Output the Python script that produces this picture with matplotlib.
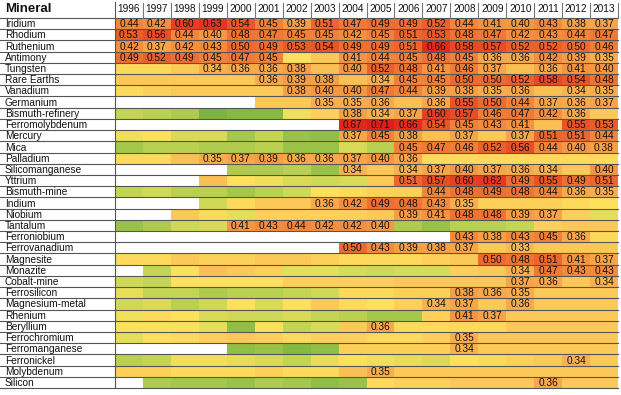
import numpy as np
import matplotlib
matplotlib.use("Agg")
import matplotlib.pyplot as plt
from matplotlib.colors import LinearSegmentedColormap

nan = np.nan
years = [str(y) for y in range(1996, 2014)]
minerals = ["Iridium", "Rhodium", "Ruthenium", "Antimony", "Tungsten", "Rare Earths",
            "Vanadium", "Germanium", "Bismuth-refinery", "Ferromolybdenum", "Mercury",
            "Mica", "Palladium", "Silicomanganese", "Yttrium", "Bismuth-mine", "Indium",
            "Niobium", "Tantalum", "Ferroniobium", "Ferrovanadium", "Magnesite",
            "Monazite", "Cobalt-mine", "Ferrosilicon", "Magnesium-metal", "Rhenium",
            "Beryllium", "Ferrochromium", "Ferromanganese", "Ferronickel",
            "Molybdenum", "Silicon"]

iridium = [0.44,0.42,0.60,0.63,0.54,0.45,0.39,0.51,0.47,0.49,0.49,0.52,0.44,0.41,0.40,0.43,0.38,0.37]
rhodium = [0.53,0.56,0.44,0.40,0.48,0.47,0.45,0.45,0.42,0.45,0.51,0.53,0.48,0.47,0.42,0.43,0.44,0.47]
ruthenium = [0.42,0.37,0.42,0.43,0.50,0.49,0.53,0.54,0.49,0.49,0.51,0.66,0.58,0.57,0.52,0.52,0.50,0.46]
antimony = [0.49,0.52,0.49,0.45,0.47,0.45,0.28,0.31,0.41,0.44,0.45,0.48,0.45,0.36,0.36,0.42,0.39,0.35]
tungsten = [0.29,0.29,0.31,0.34,0.36,0.36,0.38,0.32,0.40,0.52,0.48,0.41,0.46,0.37,0.32,0.36,0.41,0.40]
rare_earths = [0.31,0.31,0.31,0.31,0.31,0.36,0.39,0.38,0.32,0.34,0.45,0.45,0.50,0.50,0.52,0.58,0.54,0.48]
vanadium = [0.29,0.30,0.31,0.31,0.31,0.31,0.38,0.40,0.40,0.47,0.44,0.39,0.38,0.35,0.36,0.32,0.34,0.35]
germanium = [nan,nan,nan,nan,nan,0.31,0.31,0.35,0.35,0.36,0.32,0.36,0.55,0.50,0.44,0.37,0.36,0.37]
bismuth_refinery = [0.23,0.22,0.21,0.16,0.17,0.17,0.27,0.30,0.38,0.34,0.37,0.60,0.57,0.46,0.47,0.42,0.36,0.31]
ferromolybdenum = [nan,nan,nan,nan,nan,nan,nan,nan,0.67,0.71,0.66,0.54,0.45,0.43,0.41,0.32,0.55,0.53]
mercury = [0.27,0.28,0.25,0.25,0.20,0.23,0.19,0.18,0.37,0.45,0.38,0.32,0.37,0.31,0.37,0.51,0.51,0.44]
mica = [0.20,0.22,0.22,0.21,0.21,0.22,0.19,0.19,0.25,0.22,0.45,0.47,0.46,0.52,0.56,0.44,0.40,0.38]
palladium = [0.29,0.29,0.32,0.35,0.37,0.39,0.36,0.36,0.37,0.40,0.36,0.29,0.29,0.29,0.29,0.29,0.29,0.29]
silicomanganese = [nan,nan,nan,nan,0.21,0.21,0.22,0.19,0.34,0.31,0.34,0.37,0.40,0.37,0.36,0.34,0.31,0.40]
yttrium = [nan,nan,nan,0.32,0.28,0.27,0.25,0.24,0.25,0.31,0.51,0.57,0.60,0.62,0.49,0.55,0.49,0.51]
bismuth_mine = [0.23,0.24,0.22,0.22,0.20,0.22,0.24,0.28,0.29,0.30,0.30,0.44,0.48,0.49,0.48,0.44,0.36,0.35]
indium = [nan,nan,nan,0.24,0.29,0.31,0.31,0.36,0.42,0.49,0.48,0.43,0.35,0.30,0.30,0.30,0.29,0.28]
niobium = [nan,nan,0.31,0.29,0.26,0.30,0.30,0.30,0.30,0.31,0.39,0.41,0.48,0.48,0.39,0.37,0.30,0.26]
tantalum = [0.19,0.21,0.24,0.25,0.41,0.43,0.44,0.42,0.42,0.40,0.21,0.19,0.22,0.22,0.23,0.30,0.31,0.31]
ferroniobium = [nan,nan,nan,nan,nan,nan,nan,nan,nan,nan,nan,nan,0.43,0.38,0.43,0.45,0.36,0.29]
ferrovanadium = [nan,nan,nan,nan,nan,nan,nan,nan,0.50,0.43,0.39,0.38,0.37,0.31,0.33,0.31,0.31,0.31]
magnesite = [0.29,0.29,0.31,0.30,0.30,0.31,0.31,0.30,0.29,0.29,0.29,0.30,0.31,0.50,0.48,0.51,0.41,0.37]
monazite = [nan,0.23,0.28,0.32,0.31,0.30,0.26,0.26,0.25,0.24,0.25,0.25,0.30,0.31,0.34,0.47,0.43,0.43]
cobalt_mine = [0.24,0.23,0.28,0.28,0.28,0.28,0.30,0.30,0.30,0.30,0.31,0.31,0.31,0.31,0.37,0.36,0.31,0.34]
ferrosilicon = [0.26,0.23,0.23,0.21,0.22,0.22,0.23,0.24,0.29,0.29,0.30,0.30,0.38,0.36,0.35,0.31,0.31,0.31]
magnesium_metal = [0.24,0.25,0.22,0.24,0.28,0.25,0.28,0.31,0.29,0.28,0.30,0.34,0.37,0.31,0.36,0.31,0.31,0.31]
rhenium = [0.27,0.29,0.28,0.25,0.24,0.24,0.25,0.23,0.22,0.20,0.20,0.30,0.41,0.37,0.31,0.31,0.31,0.31]
beryllium = [0.28,0.28,0.28,0.26,0.18,0.28,0.23,0.25,0.31,0.36,0.29,0.29,0.29,0.29,0.31,0.31,0.31,0.31]
ferrochromium = [0.26,0.28,0.29,0.30,0.31,0.30,0.29,0.30,0.30,0.29,0.29,0.30,0.35,0.31,0.31,0.31,0.31,0.31]
ferromanganese = [nan,nan,nan,nan,0.18,0.19,0.17,0.18,0.30,0.30,0.30,0.30,0.34,0.31,0.31,0.31,0.31,0.31]
ferronickel = [0.22,0.23,0.27,0.27,0.26,0.25,0.23,0.26,0.28,0.27,0.26,0.25,0.28,0.29,0.30,0.31,0.34,0.31]
molybdenum = [0.30,0.30,0.29,0.29,0.29,0.30,0.29,0.29,0.32,0.35,0.31,0.31,0.31,0.31,0.31,0.31,0.31,0.31]
silicon = [nan,0.21,0.20,0.20,0.19,0.21,0.20,0.18,0.19,0.29,0.30,0.30,0.31,0.31,0.31,0.36,0.31,0.31]

rows = [iridium, rhodium, ruthenium, antimony, tungsten, rare_earths, vanadium, germanium,
        bismuth_refinery, ferromolybdenum, mercury, mica, palladium, silicomanganese,
        yttrium, bismuth_mine, indium, niobium, tantalum, ferroniobium, ferrovanadium,
        magnesite, monazite, cobalt_mine, ferrosilicon, magnesium_metal, rhenium,
        beryllium, ferrochromium, ferromanganese, ferronickel, molybdenum, silicon]
data = np.array(rows, dtype=float)
label_threshold = 0.33

vmin, vmax = 0.15, 0.72
stops = [(0.15, "#73b03a"), (0.20, "#a6c84b"), (0.24, "#d0d957"), (0.28, "#fde15c"),
         (0.31, "#fcc757"), (0.34, "#f9b250"), (0.40, "#f69843"), (0.47, "#f07935"),
         (0.55, "#ea5228"), (0.65, "#e42e1e"), (0.72, "#de1a18")]
cmap = LinearSegmentedColormap.from_list(
    "heat", [((v - vmin) / (vmax - vmin), c) for v, c in stops])
cmap.set_bad("white")

plt.rcParams["font.family"] = ["Liberation Sans", "DejaVu Sans"]
W, H = 621, 395
fig = plt.figure(figsize=(W / 100, H / 100), dpi=100)
x0, x1, y0, y1 = 115, 618, 18, 388
ax = fig.add_axes([x0 / W, 1 - y1 / H, (x1 - x0) / W, (y1 - y0) / H])

nr, nc = data.shape
ax.pcolormesh(np.arange(nc + 1), np.arange(nr + 1), np.ma.masked_invalid(data),
              cmap=cmap, vmin=vmin, vmax=vmax, shading="flat")
ax.set_xlim(0, nc)
ax.set_ylim(nr, 0)
for s in ax.spines.values():
    s.set_visible(False)
ax.set_xticks([])
ax.set_yticks([])

fs = 7.3
for i in range(nr):
    for j in range(nc):
        v = data[i, j]
        if not np.isnan(v) and v >= label_threshold:
            ax.text(j + 0.5, i + 0.55, f"{v:.2f}", ha="center", va="center",
                    fontsize=fs, color="#111111")

# row names
ytr = ax.get_yaxis_transform()
left = -x0 / (x1 - x0)
for i, name in enumerate(minerals):
    ax.text(left + 5 / (x1 - x0), i + 0.55, name, transform=ytr, ha="left", va="center",
            fontsize=fs, color="#111111")
# horizontal row lines
for i in range(nr + 1):
    ax.plot([left, 1], [i, i], transform=ytr, color="#555555", lw=0.8, clip_on=False)
# vertical line between names and data
ax.plot([0, 0], [nr, -1.45], color="#555555", lw=0.8, clip_on=False)

# header
xtr = ax.get_xaxis_transform()
hdr_top = 1 + (y0 - 3) / (y1 - y0)
hdr_mid = 1 + (y0 - 9.5) / (y1 - y0)
for j, yr in enumerate(years):
    ax.text(j + 0.5, hdr_mid, yr, transform=xtr, ha="center", va="center",
            fontsize=fs, color="#111111")
    ax.plot([j + 1, j + 1], [1, hdr_top], transform=xtr, color="#777777", lw=0.8,
            clip_on=False)
ax.text(left + 5 / (x1 - x0), hdr_mid, "Mineral", transform=ax.transAxes, ha="left",
        va="center", fontsize=9.5, fontweight="bold", color="#111111")

fig.savefig("out.png", dpi=100, facecolor="white")
